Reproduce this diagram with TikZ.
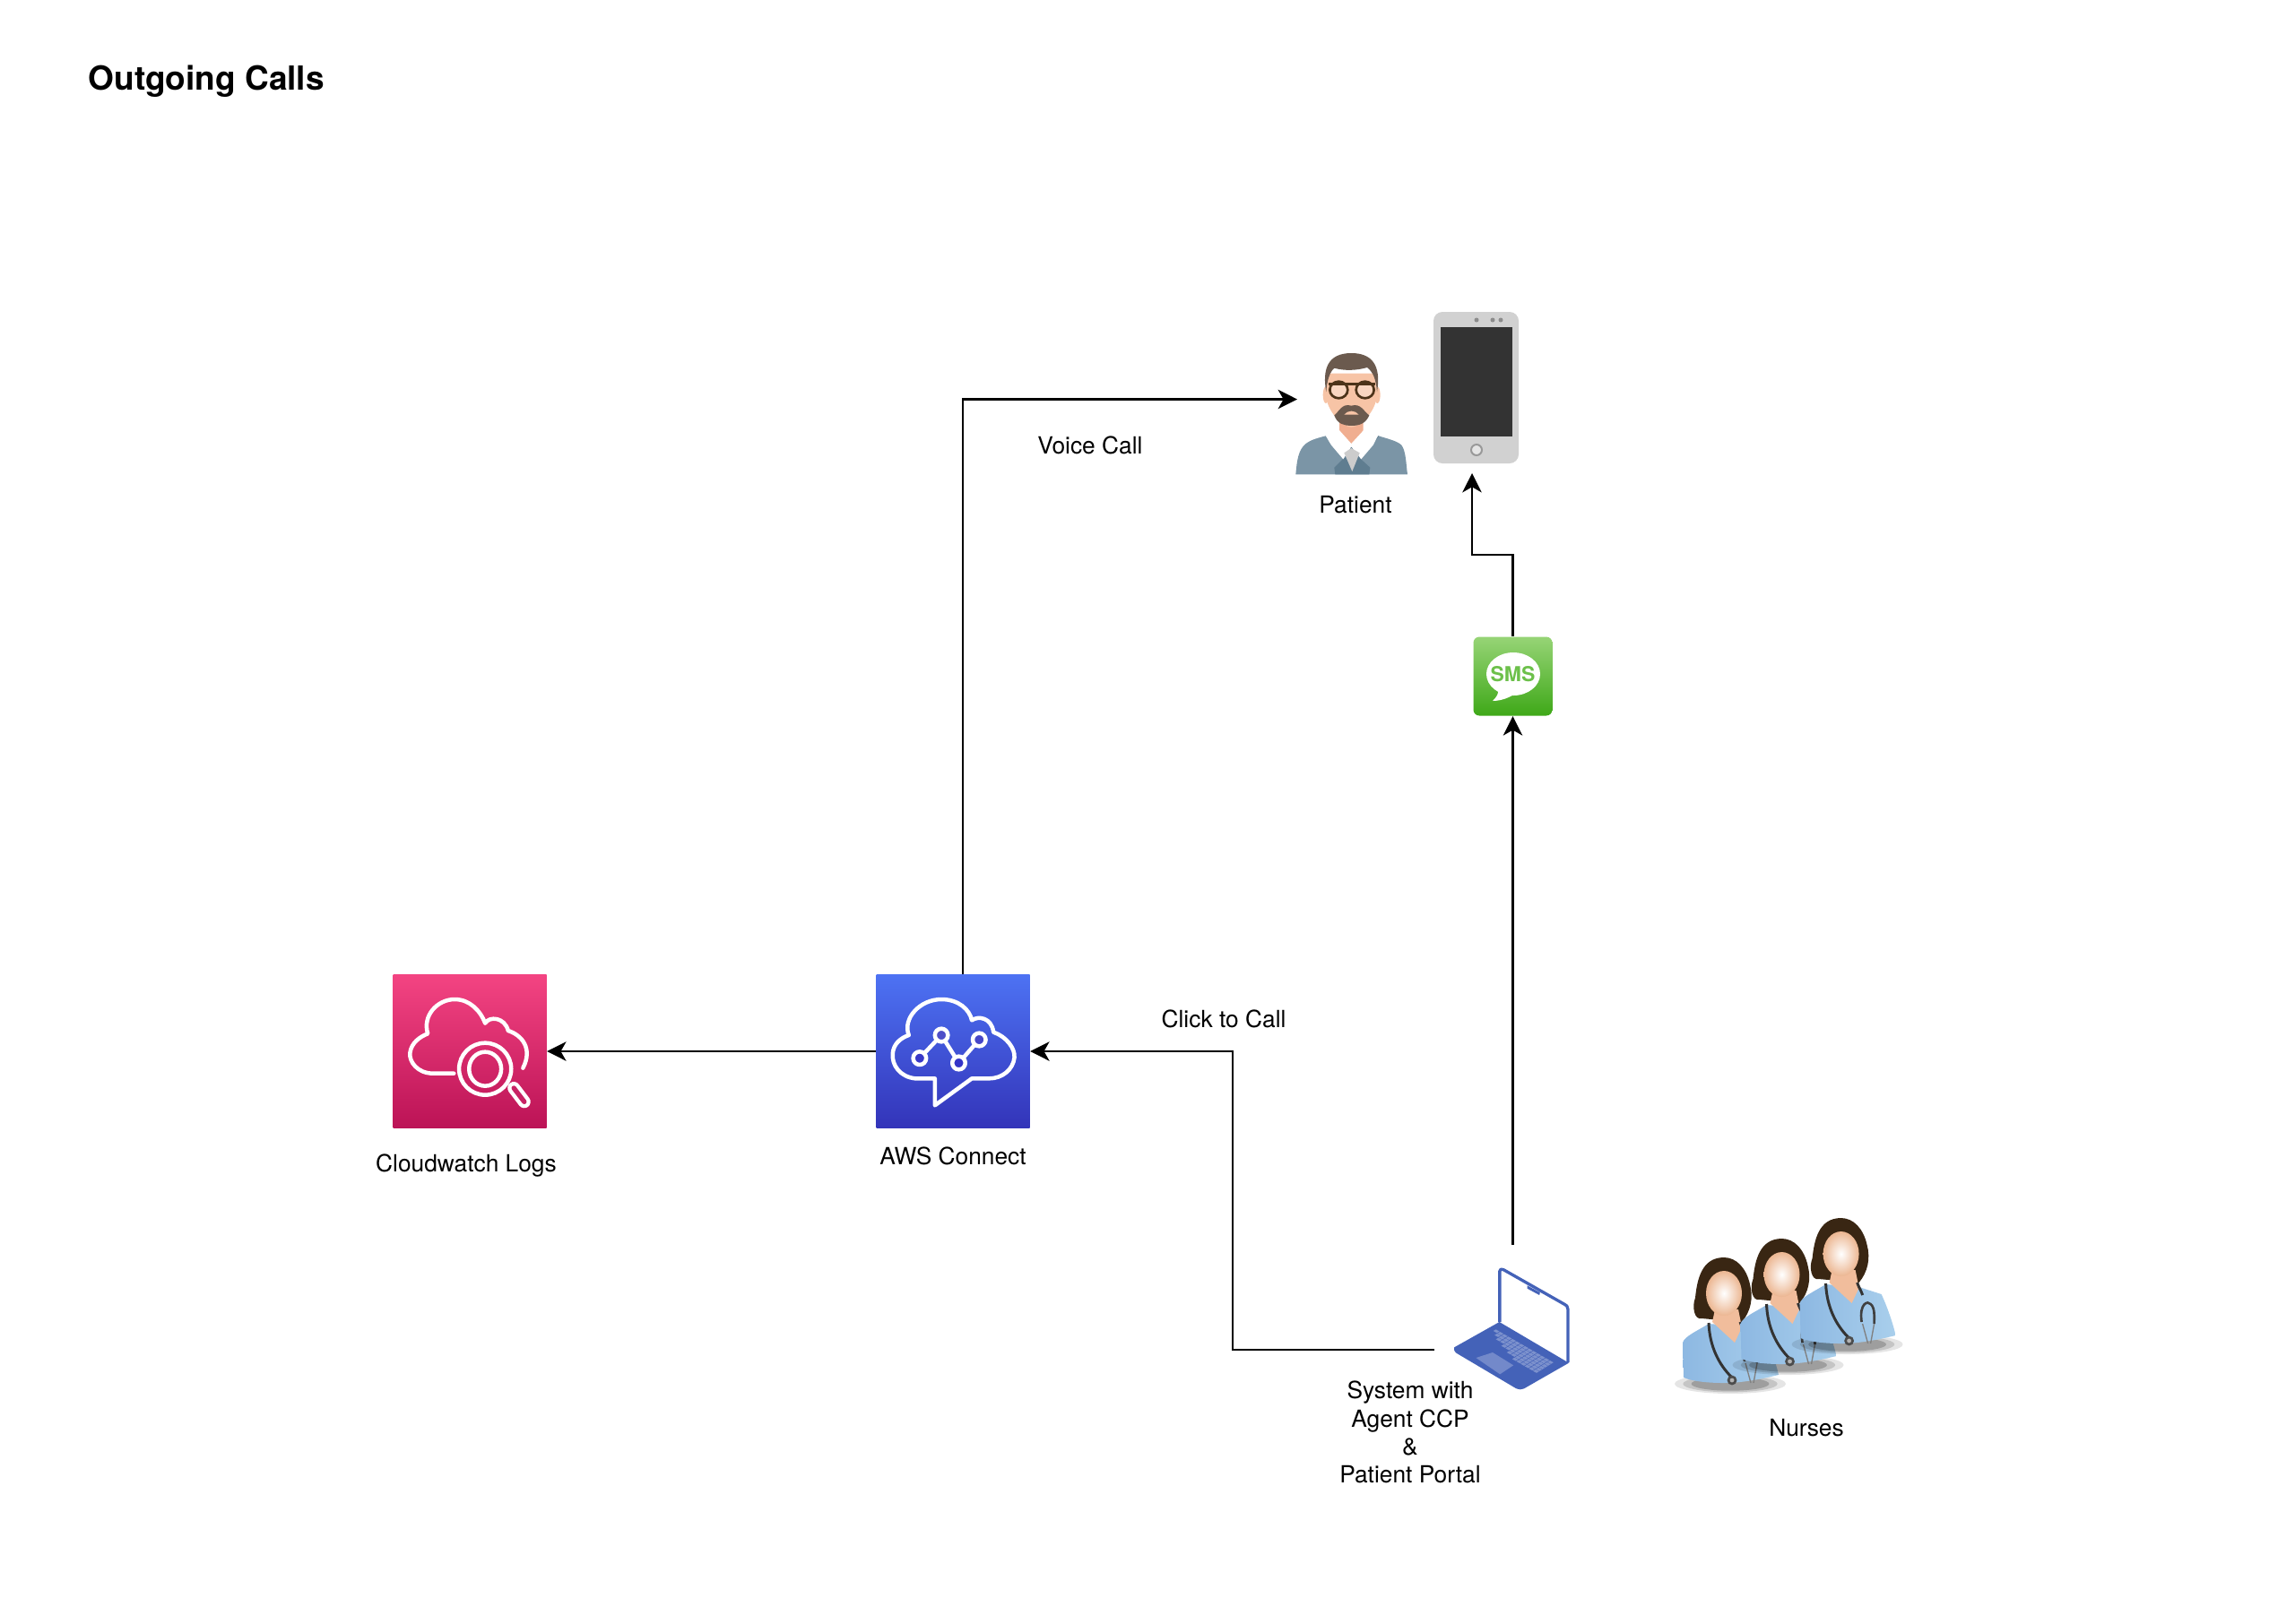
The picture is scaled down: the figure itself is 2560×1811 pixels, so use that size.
\documentclass[tikz,border=0pt]{standalone}
\usepackage{fontspec}
\setmainfont{TeX Gyre Heros}
\usetikzlibrary{arrows.meta}
\definecolor{skinlight}{HTML}{F7C4A6}
\definecolor{skinneck}{HTML}{F0AE90}
\definecolor{hairbrown}{HTML}{6B5A4E}
\definecolor{vestblue}{HTML}{7B95A6}
\definecolor{vestdark}{HTML}{5F7D90}
\definecolor{laptopblue}{HTML}{4462B8}
\definecolor{nurseblue}{HTML}{8DB8E2}
\definecolor{nursepale}{HTML}{A9CFEC}
\tikzset{
  flow/.style={draw=black,line width=0.8pt,-{Stealth[length=6.4pt,width=6.4pt,inset=1.8pt]}},
  plainlabel/.style={font=\fontsize{7.9}{9.4}\selectfont,inner sep=0pt,align=center},
  iconbox/.style={minimum width=51.3pt,minimum height=51.3pt,inner sep=0pt,draw=none},
  iconline/.style={draw=white,line width=1.35pt,line join=round,line cap=round},
  nursefig/.pic={
    % shadow
    \foreach \r/\o in {1/0.1,0.85/0.14,0.7/0.2}
      \fill[black,opacity=\o] (7,141) ellipse [x radius=62*\r,y radius=11*\r];
    % hair
    \fill[black!70!brown] (0,0) .. controls (-25,0) and (-30,25) .. (-32,45) .. controls (-36,55) and (-33,70) .. (-25,68)
      -- (20,72) .. controls (30,60) and (33,45) .. (29,30) .. controls (25,12) and (14,0) .. (0,0) -- cycle;
    % body
    \shade[left color=nurseblue,right color=nursepale] (-45,134) -- (-46,95) .. controls (-44,88) and (-30,82) .. (-17,74)
      -- (20,77) -- (45,85) .. controls (52,100) and (58,118) .. (61,131) .. controls (40,136) and (20,140) .. (0,140)
      .. controls (-20,140) and (-35,138) .. (-45,134) -- cycle;
    % neck and face
    \fill[skinlight!90!brown] (-10,58) -- (-13,72) -- (12,95) -- (20,78) -- (16,58) -- cycle;
    \shade[inner color=white,outer color=skinlight!80!brown] (0,40) ellipse [x radius=20,y radius=25];
    % stethoscope
    \draw[black!80,line width=0.9pt] (-17,73) .. controls (-16,100) and (-5,120) .. (8,133);
    \draw[black!80,line width=0.9pt] (18,72) .. controls (20,78) and (23,82) .. (24,86);
    \draw[black!75,line width=0.8pt] (23,116) .. controls (20,95) and (30,92) .. (33,96) .. controls (38,100) and (37,110) .. (37,118);
    \draw[black!70,fill=gray!60,line width=0.8pt] (9,137) circle [radius=4];
    \draw[gray,line width=0.4pt] (24,118) -- (30,140);
    \draw[gray,line width=0.4pt] (37,118) -- (33,140);
  }
}
\begin{document}
\begin{tikzpicture}[x=0.3pt,y=0.3pt,yscale=-1,xscale=1]
\useasboundingbox (0,0) rectangle (2560,1811);
% title
\node (title) [anchor=west,inner sep=0pt,font=\fontsize{11.1}{13}\selectfont\bfseries] at (98,91) {Outgoing Calls};
% boxes
\node (logs) [iconbox,top color={rgb,255:red,243;green,68;blue,130},bottom color={rgb,255:red,188;green,19;blue,86}] at (524,1173) {};
\node (connect) [iconbox,top color={rgb,255:red,77;green,114;blue,243},bottom color={rgb,255:red,51;green,52;blue,185}] at (1063,1173) {};
\node (sms) [minimum width=26.4pt,minimum height=26.4pt,inner sep=0pt,rounded corners=2pt,top color={rgb,255:red,150;green,212;blue,118},bottom color={rgb,255:red,62;green,168;blue,24}] at (1687.5,754.5) {};
% logs icon
\begin{scope}[shift={(420,1060)},xscale=0.4847,yscale=0.3333]
\draw[iconline] (178,413) -- (130,413) .. controls (95,413) and (75,375) .. (77,345) .. controls (80,310) and (100,290) .. (118,280) .. controls (105,220) and (140,165) .. (180,165) .. controls (215,165) and (240,205) .. (250,245) .. controls (260,220) and (295,225) .. (303,270) .. controls (335,285) and (360,330) .. (337,395);
\draw[iconline] (250,398) ellipse [x radius=60,y radius=87];
\draw[iconline] (250,398) ellipse [x radius=37,y radius=57];
\draw[white,line width=4.2pt,line cap=round] (316,462) -- (340,508);
\draw[draw={rgb,255:red,200;green,35;blue,100},line width=1.6pt,line cap=round] (316,462) -- (340,508);
\end{scope}
% connect icon
\begin{scope}[shift={(420,1060)},xscale=0.4847,yscale=0.3333]
\draw[iconline] (1285,520) -- (1285,430) -- (1240,430) .. controls (1205,425) and (1185,385) .. (1188,345) .. controls (1190,315) and (1205,295) .. (1225,285) .. controls (1210,230) and (1250,165) .. (1300,165) .. controls (1340,165) and (1365,200) .. (1370,235) .. controls (1385,220) and (1415,225) .. (1420,275) .. controls (1450,290) and (1470,330) .. (1468,360) .. controls (1465,400) and (1440,430) .. (1410,430) -- (1370,430) -- cycle;
\draw[iconline] (1250,362) -- (1300,285) -- (1340,378) -- (1387,300);
\foreach \cx/\cy/\cc in {1250/362/56,1300/285/78,1340/378/52,1387/300/70}
  \draw[iconline,fill={rgb,255:red,\cc;green,\cc;blue,200}] (\cx,\cy) ellipse [x radius=15,y radius=22];
\end{scope}
% patient
\begin{scope}[shift={(1400,320)},scale=0.3333]
\fill[vestblue] (136,628) .. controls (140,580) and (145,545) .. (170,525) .. controls (190,510) and (215,505) .. (240,498) -- (410,498) .. controls (440,508) and (475,515) .. (490,530) .. controls (505,550) and (505,590) .. (510,628) -- cycle;
\fill[vestdark] (235,500) -- (295,575) -- (265,605) -- (268,628) -- (382,628) -- (385,605) -- (352,575) -- (415,500) -- cycle;
\fill[skinneck] (282,440) -- (282,490) -- (322,535) -- (362,490) -- (362,440) -- cycle;
\fill[white] (235,497) -- (280,478) -- (322,525) -- (365,478) -- (412,497) -- (395,530) -- (355,577) -- (322,535) -- (295,577) -- (255,530) -- cycle;
\fill[gray!40] (298,556) -- (322,540) -- (350,556) -- (325,618) -- cycle;
\fill[skinlight] (237,362) ellipse [x radius=10,y radius=28];
\fill[skinlight] (409,362) ellipse [x radius=10,y radius=28];
\fill[skinlight] (240,290) -- (405,290) -- (405,380) .. controls (395,425) and (350,470) .. (322,470) .. controls (295,470) and (250,425) .. (240,380) -- cycle;
\fill[hairbrown] (238,352) .. controls (225,280) and (240,222) .. (322,222) .. controls (405,222) and (420,280) .. (408,352) .. controls (405,310) and (395,285) .. (375,270) .. controls (340,280) and (300,282) .. (265,272) .. controls (250,285) and (240,315) .. (238,352) -- cycle;
\fill[hairbrown] (265,430) .. controls (280,420) and (290,388) .. (322,398) .. controls (355,388) and (365,420) .. (382,430) .. controls (370,460) and (345,465) .. (322,465) .. controls (300,465) and (275,460) .. (265,430) -- cycle;
\fill[skinlight] (298,428) .. controls (310,412) and (335,412) .. (347,428) -- cycle;
\draw[black!50!brown!80!black,line width=0.8pt,fill=skinlight!70!white] (280,345) ellipse [x radius=30,y radius=28];
\draw[black!50!brown!80!black,line width=0.8pt,fill=skinlight!70!white] (368,345) ellipse [x radius=30,y radius=28];
\draw[black!50!brown!80!black,line width=1pt] (247,325) -- (403,325);
\end{scope}
% phone
\draw[draw=none,fill=black!18,rounded corners=3pt] (1599,348) rectangle (1694,517);
\fill[black!80] (1607,365) rectangle (1687,487);
\draw[black!40,fill=black!10,line width=0.6pt] (1647,502) circle [radius=6];
\foreach \dotx in {1647,1665,1674}
  \fill[black!45] (\dotx,357) circle [radius=2.5];
% sms bubble
\fill[white] (1688,752) ellipse [x radius=30,y radius=24];
\fill[white] (1672,765) .. controls (1672,775) and (1669,778) .. (1665,782) .. controls (1675,782) and (1685,778) .. (1693,772) -- cycle;
\node (smstext) [inner sep=0pt,text={rgb,255:red,108;green,192;blue,74},font=\fontsize{6.9}{8}\selectfont\bfseries] at (1687.5,752.5) {SMS};
% laptop
\begin{scope}[shift={(1600,1340)},xscale=0.3571,yscale=0.3333]
\draw[draw=laptopblue,line width=1pt,line join=round] (204,405) -- (204,235) .. controls (204,228) and (210,226) .. (216,230) -- (405,345) .. controls (414,350) and (417,355) .. (417,362) -- (417,540);
\fill[laptopblue] (290,283) -- (330,306) -- (328,315) -- (290,293) -- cycle;
\fill[laptopblue] (62,490) -- (203,405) -- (420,542) -- (280,628) .. controls (272,632) and (264,632) .. (256,628) -- (70,510) .. controls (62,505) and (60,495) .. (62,490) -- cycle;
\fill[laptopblue!75!white] (130,525) -- (182,507) -- (247,550) -- (205,580) -- cycle;
\foreach \j/\istart in {0/0,1/1,2/2,3/4,4/6,5/8}
  \foreach \i in {\istart,...,13}
    \fill[laptopblue!70!white] ({192+13*\i-9*\j},{430+8*\i+6*\j}) -- ++(11,6.5) -- ++(-8,5) -- ++(-11,-6.5) -- cycle;
\end{scope}
% nurses
\pic[yscale=-1] at (1923,1403) {nursefig};
\pic[yscale=-1] at (1987.5,1382) {nursefig};
\pic[yscale=-1] at (2053.6,1359) {nursefig};
% free ends
\coordinate (voicein) at (1447,445.5);
\coordinate (phonein) at (1642,528);
\coordinate (laptopup) at (1687.5,1389);
\coordinate (laptopout) at (1600,1506);
% connectors
\draw[flow] (connect.west) -- (logs.east);
\draw[flow] ([xshift=3.3pt]connect.north) |- (voicein);
\draw[flow] (sms.north) -- ++(0,-91) -| (phonein);
\draw[flow] (laptopup) -- (sms.south);
\draw[flow] (laptopout) -- (1375,1506) |- (connect.east);
% labels
\node (voicelabel) [plainlabel] at (1216,497) {Voice Call};
\node (patientlabel) [plainlabel] at (1512,563) {Patient};
\node (clicklabel) [plainlabel] at (1365,1137) {Click to Call};
\node (logslabel) [plainlabel] at (520,1301) {Cloudwatch Logs};
\node (connectlabel) [plainlabel] at (1063,1290) {AWS Connect};
\node (systemlabel) [plainlabel] at (1573,1598) {System with\\Agent CCP\\\&\\Patient Portal};
\node (nurseslabel) [plainlabel] at (2015,1593) {Nurses};
\end{tikzpicture}
\end{document}
